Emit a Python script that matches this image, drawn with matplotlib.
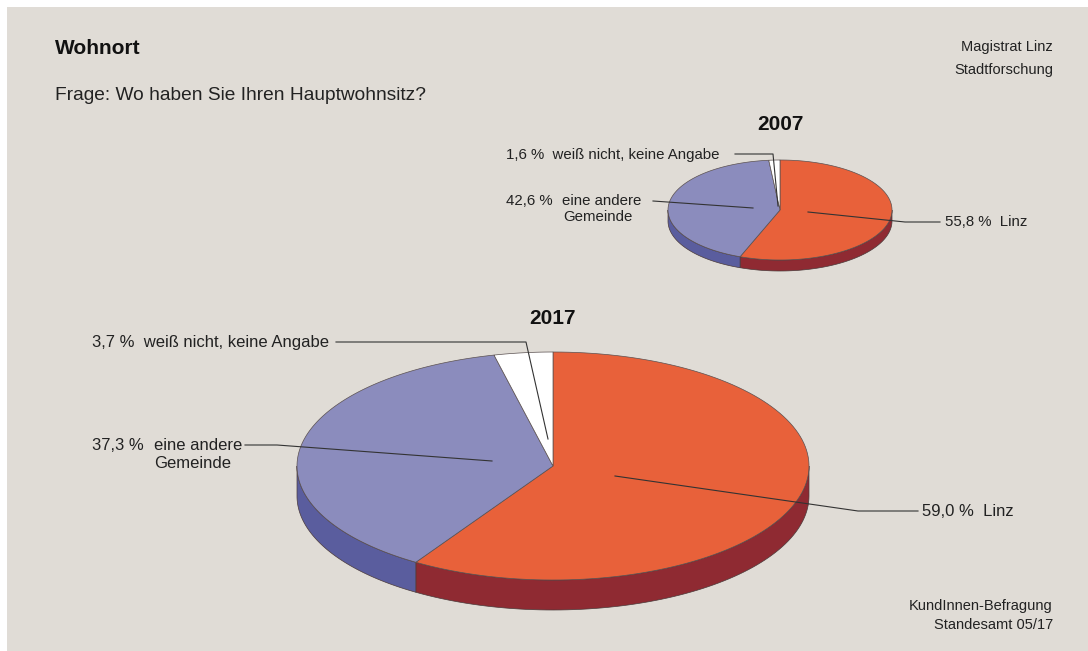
import numpy as np
import matplotlib
matplotlib.use("Agg")
import matplotlib.pyplot as plt
from matplotlib.patches import Polygon, Rectangle

plt.rcParams['font.family'] = ['Liberation Sans', 'DejaVu Sans']

# data
categories = ["Linz", "eine andere\nGemeinde", "weiß nicht, keine Angabe"]
values_2007 = [55.8, 42.6, 1.6]
values_2017 = [59.0, 37.3, 3.7]

top_colors = ["#e8613a", "#8b8cbd", "#ffffff"]
side_colors = ["#8f2a32", "#5a5d9e", "#ffffff"]
bg = "#e0dcd6"


def fmt(v):
    return ("%.1f" % v).replace(".", ",") + " %"


def draw_pie(ax, cx, cy, rx, ry, depth, values):
    start = 90.0
    slices = []
    for v in values:
        end = start - 360.0 * v / 100.0
        slices.append((end, start))
        start = end
    # side walls (front half only)
    for (a2, a1), col in zip(slices, side_colors):
        lo, hi = max(a2, -180.0), min(a1, 0.0)
        if hi <= lo:
            continue
        t = np.radians(np.linspace(lo, hi, 80))
        xs = cx + rx * np.cos(t)
        ys = cy - ry * np.sin(t)
        pts = np.column_stack([np.r_[xs, xs[::-1]], np.r_[ys, ys[::-1] + depth]])
        ax.add_patch(Polygon(pts, closed=True, facecolor=col, edgecolor="#4a3a3a",
                             linewidth=0.5, zorder=2))
    # top faces
    for (a2, a1), col in zip(slices, top_colors):
        t = np.radians(np.linspace(a1, a2, 120))
        xs = np.r_[cx, cx + rx * np.cos(t)]
        ys = np.r_[cy, cy - ry * np.sin(t)]
        ax.add_patch(Polygon(np.column_stack([xs, ys]), closed=True, facecolor=col,
                             edgecolor="#5a5050", linewidth=0.5, zorder=3))


def leader(ax, pts):
    pts = np.array(pts)
    ax.plot(pts[:, 0], pts[:, 1], color="#333333", linewidth=0.8, zorder=4)


fig = plt.figure(figsize=(10.88, 6.51), dpi=100)
ax = fig.add_axes([0, 0, 1, 1])
ax.set_xlim(0, 1088)
ax.set_ylim(651, 0)
ax.axis("off")
ax.add_patch(Rectangle((7, 7), 1081, 644, facecolor=bg, edgecolor="none", zorder=0))

# titles
ax.text(55, 48, "Wohnort", fontsize=15, fontweight="bold", va="center", color="#111111")
ax.text(55, 96, "Frage: Wo haben Sie Ihren Hauptwohnsitz?", fontsize=13.8, va="center", color="#222222")
small = dict(fontsize=10.5, ha="right", va="center", color="#222222")
ax.text(1053, 47, "Magistrat Linz", **small)
ax.text(1053, 70, "Stadtforschung", **small)
ax.text(1053, 606, "KundInnen-Befragung", **small)
ax.text(1053, 625, "Standesamt 05/17", **small)

# 2007
ax.text(780, 124, "2007", fontsize=15, fontweight="bold", ha="center", va="center", color="#111111")
draw_pie(ax, 780, 210, 112, 50, 11, values_2007)
lab = dict(fontsize=10.8, va="center", color="#222222", zorder=5)
ax.text(945, 222, fmt(values_2007[0]) + "  " + categories[0], **lab)
leader(ax, [(808, 212), (905, 222), (940, 222)])
ax.text(506, 201, fmt(values_2007[1]), **lab)
ax.text(562, 201, "eine andere", **lab)
ax.text(563, 217, "Gemeinde", **lab)
leader(ax, [(653, 201), (753, 208)])
ax.text(506, 155, fmt(values_2007[2]) + "  " + categories[2], **lab)
leader(ax, [(735, 154), (773, 154), (778, 206)])

# 2017
ax.text(553, 319, "2017", fontsize=15, fontweight="bold", ha="center", va="center", color="#111111")
draw_pie(ax, 553, 466, 256, 114, 30, values_2017)
lab2 = dict(fontsize=12, va="center", color="#222222", zorder=5)
ax.text(922, 511, fmt(values_2017[0]) + "  " + categories[0], **lab2)
leader(ax, [(615, 476), (858, 511), (918, 511)])
ax.text(92, 446, fmt(values_2017[1]), **lab2)
ax.text(154, 446, "eine andere", **lab2)
ax.text(154, 463, "Gemeinde", **lab2)
leader(ax, [(245, 445), (277, 445), (492, 461)])
ax.text(92, 342, fmt(values_2017[2]) + "  " + categories[2], **lab2)
leader(ax, [(336, 342), (526, 342), (548, 439)])

fig.savefig("out.png", dpi=100, facecolor="white")
